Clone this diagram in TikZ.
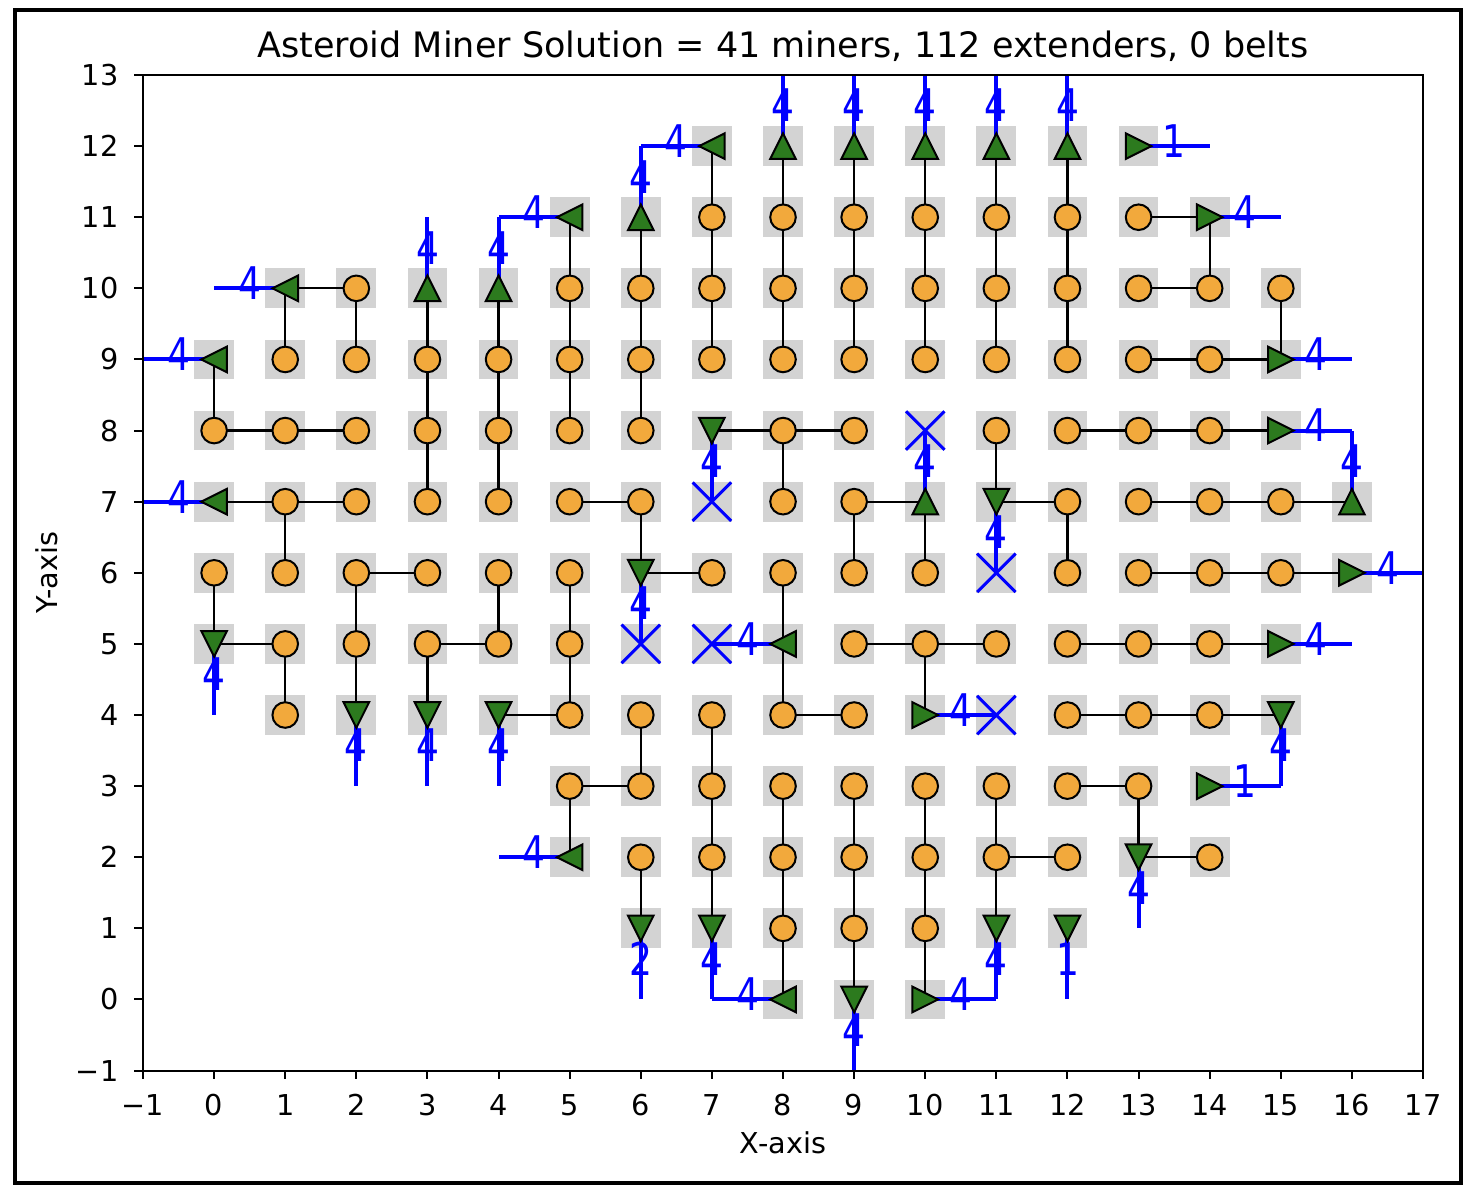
\documentclass[tikz,border=0pt]{standalone}
\usepackage{fontspec}
\setmainfont{DejaVu Sans}
\usepackage{xcolor}
\usepackage{tikz}
\usetikzlibrary{arrows,shapes}

\definecolor{cellgray}{RGB}{211,211,211}
\definecolor{extorange}{RGB}{242,169,60}
\definecolor{minergreen}{RGB}{44,122,30}

\newcommand{\ticknum}[1]{\ifnum#1<0 \char"2212\relax\the\numexpr0-(#1)\relax\else#1\fi}

% extenders, row by row: y/{x,...}
\def\extlist{11/{7,...,13}, 10/{2,5,6,7,8,9,10,11,12,13,14,15}, 9/{1,...,14},
  8/{0,1,2,3,4,5,6,8,9,11,12,13,14}, 7/{1,2,3,4,5,6,8,9,12,13,14,15},
  6/{0,1,2,3,4,5,7,8,9,10,12,13,14,15}, 5/{1,2,3,4,5,9,10,11,12,13,14},
  4/{1,5,6,7,8,9,12,13,14}, 3/{5,...,13}, 2/{6,7,8,9,10,11,12,14}, 1/{8,9,10}}
% miners: x/y/rotation/output
\def\minerlist{7/12/90/4, 8/12/0/4, 9/12/0/4, 10/12/0/4, 11/12/0/4, 12/12/0/4, 13/12/-90/1,
  5/11/90/4, 6/11/0/4, 14/11/-90/4, 1/10/90/4, 3/10/0/4, 4/10/0/4, 0/9/90/4, 15/9/-90/4,
  7/8/180/4, 15/8/-90/4, 0/7/90/4, 10/7/0/4, 11/7/180/4, 16/7/0/4, 6/6/180/4, 16/6/-90/4,
  0/5/180/4, 8/5/90/4, 15/5/-90/4, 2/4/180/4, 3/4/180/4, 4/4/180/4, 10/4/-90/4, 15/4/180/4,
  14/3/-90/1, 5/2/90/4, 13/2/180/4, 6/1/180/2, 7/1/180/4, 11/1/180/4, 12/1/180/1,
  8/0/90/4, 9/0/180/4, 10/0/-90/4}
\def\clashlist{7/7, 10/8, 11/6, 6/5, 7/5, 11/4}

\begin{document}
\begin{tikzpicture}[
    cell/.style={fill=cellgray,minimum size=0.56cm,inner sep=0pt},
    ext/.style={circle,draw=black,fill=extorange,line width=0.8pt,minimum size=0.36cm,inner sep=0pt},
    miner/.style={fill=minergreen,draw=black,line width=0.8pt,line join=miter},
    link/.style={line width=0.9pt},
    flow/.style={blue,line width=1.6pt},
    flowlabel/.style={blue,inner sep=0pt,font=\fontsize{18}{18}\selectfont,yshift=0.07cm},
    clash/.style={cross out,draw=blue,line width=1.2pt,minimum size=0.5cm,inner sep=0pt},
    axisline/.style={line width=0.8pt},
    ticklabel/.style={inner sep=0pt,font=\fontsize{11.5}{13}\selectfont},
    ]
\useasboundingbox (-3.011,-2.792) rectangle (17.717,14.055);

% cells
\foreach \y/\xs in \extlist {\foreach \x in \xs {\node[cell] (g-\x-\y) at (\x,\y) {};}}
\foreach \x/\y/\ang/\lab in \minerlist {\node[cell] (g-\x-\y) at (\x,\y) {};}
\foreach \x/\y in \clashlist {\node[cell] (g-\x-\y) at (\x,\y) {};}

% links
\foreach \u/\v in {0-9/0-8, 0-6/0-5, 1-10/1-9, 1-7/1-6, 1-5/1-4, 2-10/2-9, 2-6/2-4,
    3-10/3-7, 3-5/3-4, 4-10/4-7, 4-6/4-5, 5-11/5-8, 5-6/5-4, 5-3/5-2,
    6-11/6-8, 6-7/6-6, 6-4/6-3, 6-2/6-1, 7-12/7-9, 7-4/7-1,
    8-12/8-9, 8-8/8-7, 8-6/8-4, 8-3/8-0, 9-12/9-9, 9-7/9-6, 9-3/9-0,
    10-12/10-9, 10-7/10-6, 10-5/10-4, 10-3/10-0, 11-12/11-9, 11-8/11-7, 11-3/11-1,
    12-12/12-9, 12-7/12-6, 13-3/13-2, 14-11/14-10, 15-10/15-9,
    13-11/14-11, 1-10/2-10, 13-10/14-10, 13-9/15-9,
    0-8/2-8, 7-8/9-8, 12-8/15-8,
    0-7/2-7, 5-7/6-7, 9-7/10-7, 11-7/12-7, 13-7/16-7,
    2-6/3-6, 6-6/7-6, 13-6/16-6,
    0-5/1-5, 3-5/4-5, 9-5/11-5, 12-5/15-5,
    4-4/5-4, 8-4/9-4, 12-4/15-4,
    5-3/6-3, 12-3/13-3, 11-2/12-2, 13-2/14-2}
  \draw[link] (g-\u.center) -- (g-\v.center);

% outputs
\foreach \x/\y/\ang/\lab in \minerlist {
  \coordinate (t-\x-\y) at ([shift={(\ang+90:1)}]g-\x-\y.center);
  \draw[flow] (g-\x-\y.center) -- (t-\x-\y) node[flowlabel,midway] {\scalebox{0.8}[1]{\lab}};
}

% markers
\foreach \y/\xs in \extlist {\foreach \x in \xs {\node[ext] (e-\x-\y) at (g-\x-\y) {};}}
\foreach \x/\y/\ang/\lab in \minerlist
  {\filldraw[miner,shift={(\x,\y)},rotate=\ang] (0,0.18) -- (-0.18,-0.18) -- (0.18,-0.18) -- cycle;}
\foreach \x/\y in \clashlist {\node[clash] (k-\x-\y) at (g-\x-\y) {};}

% axes
\draw[axisline] (-1,-1) rectangle (17,13);
\foreach \i in {-1,...,17} {
  \draw[axisline] (\i,-1) -- (\i,-1.123);
  \node[ticklabel,anchor=north] (xt\i) at (\i,-1.33) {\ticknum{\i}};
}
\foreach \j in {-1,...,13} {
  \draw[axisline] (-1,\j) -- (-1.123,\j);
  \node[ticklabel,anchor=east] (yt\j) at (-1.34,\j) {\ticknum{\j}};
}
\node[ticklabel] (xlab) at (8,-2.02) {X-axis};
\node[ticklabel,rotate=90] (ylab) at (-2.35,6) {Y-axis};
\node[inner sep=0pt,anchor=base,font=\fontsize{14}{16}\selectfont] (title) at (8,13.253)
  {Asteroid Miner Solution = 41 miners, 112 extenders, 0 belts};

\draw[line width=1.3pt] (-2.8,-2.581) rectangle (17.535,13.914);
\end{tikzpicture}
\end{document}
